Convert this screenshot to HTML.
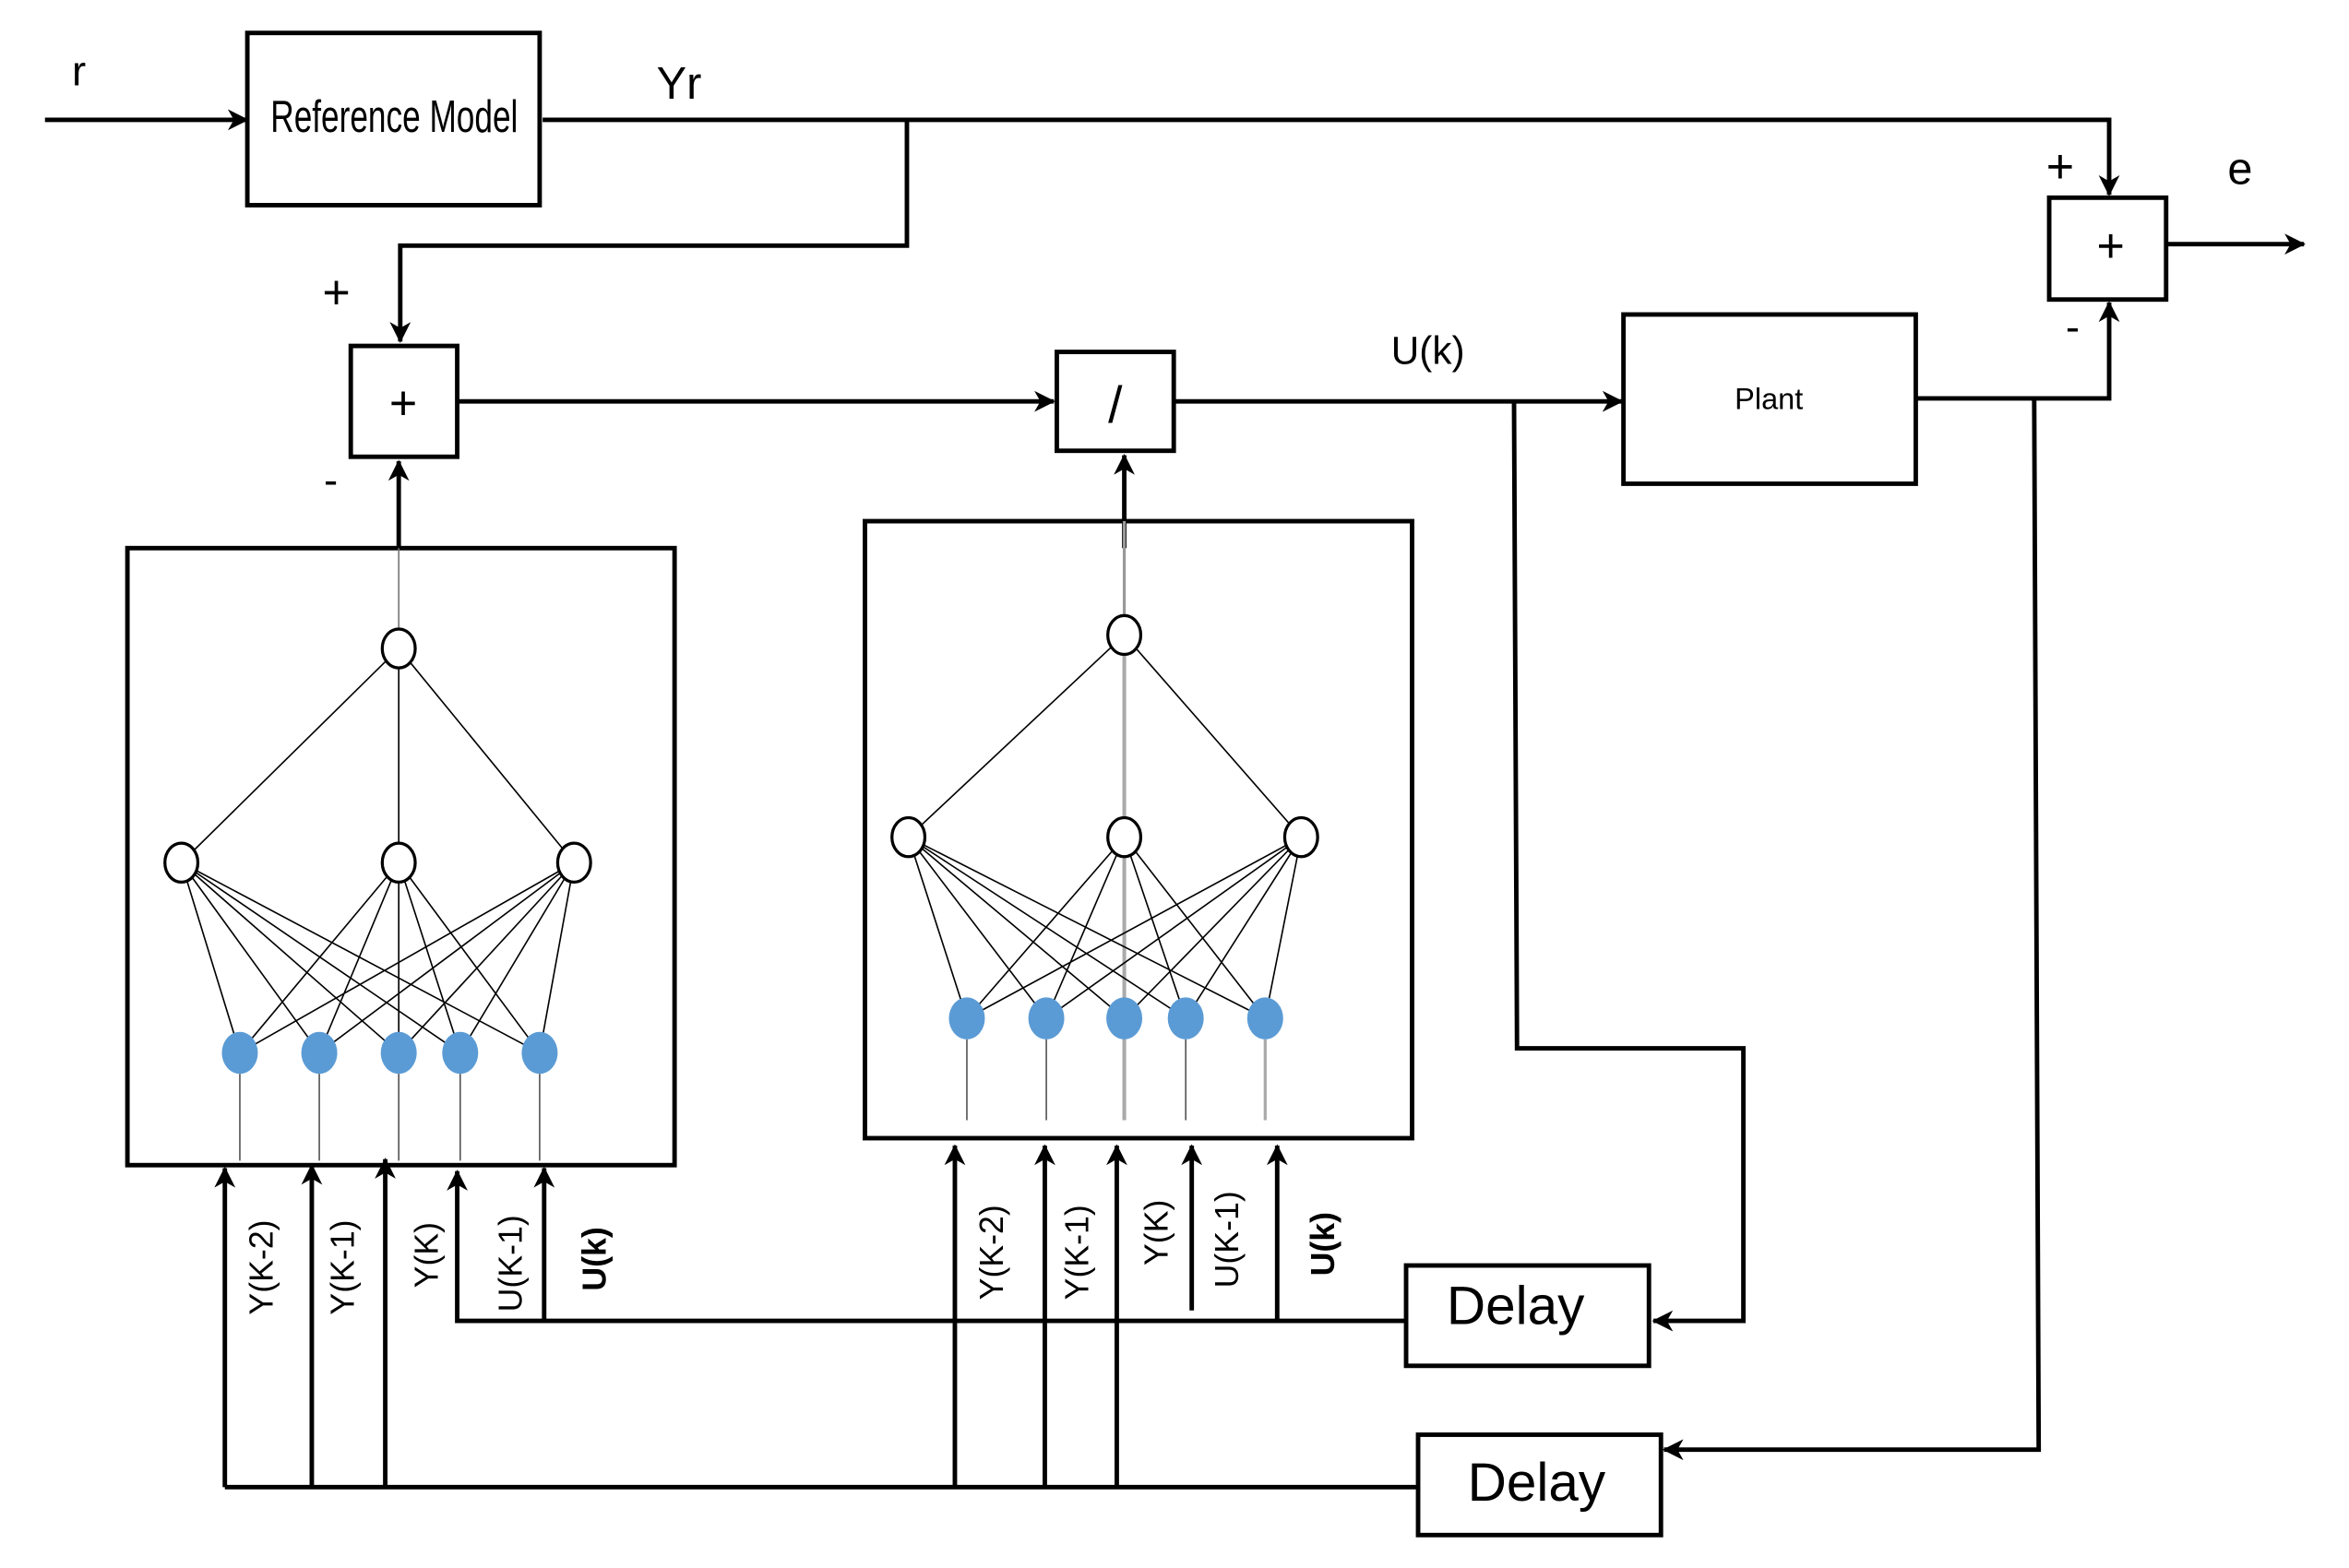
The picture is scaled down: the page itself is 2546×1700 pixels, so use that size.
<!DOCTYPE html>
<html><head><meta charset="utf-8"><style>html,body{margin:0;padding:0;background:#fff;}svg{display:block}</style></head>
<body>
<svg width="2546" height="1700" viewBox="0 0 1567 1047" preserveAspectRatio="none" xmlns="http://www.w3.org/2000/svg" font-family="Liberation Sans, sans-serif">
<defs>
<marker id="a" markerWidth="14" markerHeight="14" refX="13" refY="7" orient="auto" markerUnits="userSpaceOnUse"><path d="M0,0 L14,7 L0,14 L4,7 z" fill="#000"/></marker>
</defs>
<g fill="none" stroke="#000" stroke-width="3">
<line x1="30" y1="80" x2="165" y2="80" marker-end="url(#a)"/>
<rect x="165" y="22" width="195" height="115"/>
<polyline points="362,80 1407,80 1407,130" marker-end="url(#a)"/>
<polyline points="605,80 605,164 267,164 267,228" marker-end="url(#a)"/>
<rect x="234" y="231" width="71" height="74"/>
<line x1="305" y1="268" x2="703" y2="268" marker-end="url(#a)"/>
<rect x="705" y="235" width="78" height="66"/>
<line x1="783" y1="268" x2="1082" y2="268" marker-end="url(#a)"/>
<rect x="1083" y="210" width="195" height="113"/>
<polyline points="1278,266 1407,266 1407,202" marker-end="url(#a)"/>
<rect x="1367" y="132" width="78" height="68"/>
<line x1="1445" y1="163" x2="1537" y2="163" marker-end="url(#a)"/>
<polyline points="1010,268 1012,700 1163,700 1163,882 1103,882" marker-end="url(#a)"/>
<rect x="938" y="845" width="162" height="67"/>
<polyline points="1357,266 1360,968 1110,968" marker-end="url(#a)"/>
<rect x="946" y="958" width="162" height="67"/>
<rect x="85" y="366" width="365" height="412"/>
<rect x="577" y="348" width="365" height="412"/>
<line x1="266" y1="366" x2="266" y2="308" marker-end="url(#a)"/>
<line x1="750" y1="366" x2="750" y2="304" marker-end="url(#a)"/>
<polyline points="938,882 305,882 305,782" marker-end="url(#a)"/>
<line x1="363" y1="882" x2="363" y2="780" marker-end="url(#a)"/>
<line x1="852" y1="882" x2="852" y2="765" marker-end="url(#a)"/>
<line x1="795" y1="875" x2="795" y2="765" marker-end="url(#a)"/>
<line x1="946" y1="993" x2="150" y2="993"/>
<line x1="150" y1="993" x2="150" y2="780" marker-end="url(#a)"/>
<line x1="208" y1="993" x2="208" y2="778" marker-end="url(#a)"/>
<line x1="257" y1="993" x2="257" y2="774" marker-end="url(#a)"/>
<line x1="637" y1="993" x2="637" y2="765" marker-end="url(#a)"/>
<line x1="697" y1="993" x2="697" y2="765" marker-end="url(#a)"/>
<line x1="745" y1="993" x2="745" y2="765" marker-end="url(#a)"/>
</g>
<g stroke="#000" stroke-width="1" fill="none">
<line x1="266" y1="422" x2="266" y2="366" stroke="#777"/>
<path d="M266,433 L121,576 M266,433 L266,576 M266,433 L383,576"/>
<path d="M121,576 L160,703 M121,576 L213,703 M121,576 L266,703 M121,576 L307,703 M121,576 L360,703
M266,576 L160,703 M266,576 L213,703 M266,576 L266,703 M266,576 L307,703 M266,576 L360,703
M383,576 L160,703 M383,576 L213,703 M383,576 L266,703 M383,576 L307,703 M383,576 L360,703"/>
<path d="M160,775V717 M213,775V717 M266,775V717 M307,775V717 M360,775V717" stroke="#555"/>
<line x1="750" y1="412" x2="750" y2="348" stroke="#999" stroke-width="2"/>
<path d="M750,424 L606,559 M750,424 L868,559"/>
<line x1="750" y1="435" x2="750" y2="748" stroke="#aaa" stroke-width="2.5"/>
<path d="M606,559 L645,680 M606,559 L698,680 M606,559 L750,680 M606,559 L791,680 M606,559 L844,680
M750,559 L645,680 M750,559 L698,680 M750,559 L791,680 M750,559 L844,680
M868,559 L645,680 M868,559 L698,680 M868,559 L750,680 M868,559 L791,680 M868,559 L844,680"/>
<path d="M645,748V694 M698,748V694 M791,748V694" stroke="#555"/>
<path d="M844,748V694" stroke="#aaa" stroke-width="2"/>
</g>
<g fill="#fff" stroke="#000" stroke-width="2">
<ellipse cx="266" cy="433" rx="11" ry="13"/>
<ellipse cx="121" cy="576" rx="11" ry="13"/><ellipse cx="266" cy="576" rx="11" ry="13"/><ellipse cx="383" cy="576" rx="11" ry="13"/>
<ellipse cx="750" cy="424" rx="11" ry="13"/>
<ellipse cx="606" cy="559" rx="11" ry="13"/><ellipse cx="750" cy="559" rx="11" ry="13"/><ellipse cx="868" cy="559" rx="11" ry="13"/>
</g>
<g fill="#5b9bd5">
<ellipse cx="160" cy="703" rx="12" ry="14"/><ellipse cx="213" cy="703" rx="12" ry="14"/><ellipse cx="266" cy="703" rx="12" ry="14"/><ellipse cx="307" cy="703" rx="12" ry="14"/><ellipse cx="360" cy="703" rx="12" ry="14"/>
<ellipse cx="645" cy="680" rx="12" ry="14"/><ellipse cx="698" cy="680" rx="12" ry="14"/><ellipse cx="750" cy="680" rx="12" ry="14"/><ellipse cx="791" cy="680" rx="12" ry="14"/><ellipse cx="844" cy="680" rx="12" ry="14"/>
</g>
<g fill="#000">
<text x="48" y="57" font-size="28">r</text>
<text x="263" y="88" font-size="30" text-anchor="middle" textLength="165" lengthAdjust="spacingAndGlyphs">Reference Model</text>
<text x="438" y="66" font-size="30">Yr</text>
<text x="215" y="206" font-size="32">+</text>
<text x="269" y="280" font-size="32" text-anchor="middle">+</text>
<text x="216" y="330" font-size="28">-</text>
<text x="744" y="282" font-size="34" text-anchor="middle">/</text>
<text x="928" y="243" font-size="26">U(k)</text>
<text x="1180" y="273" font-size="20" text-anchor="middle">Plant</text>
<text x="1365" y="122" font-size="32">+</text>
<text x="1408" y="175" font-size="32" text-anchor="middle">+</text>
<text x="1378" y="228" font-size="28">-</text>
<text x="1486" y="123" font-size="30">e</text>
<text x="1011" y="884" font-size="36" text-anchor="middle">Delay</text>
<text x="1025" y="1002" font-size="36" text-anchor="middle">Delay</text>
<g font-size="22">
<text transform="translate(182,878) rotate(-90)">Y(K-2)</text>
<text transform="translate(236,878) rotate(-90)">Y(K-1)</text>
<text transform="translate(292,860) rotate(-90)">Y(K)</text>
<text transform="translate(348,876) rotate(-90)">U(K-1)</text>
<text transform="translate(404,862) rotate(-90)" font-weight="bold">U(k)</text>
<text transform="translate(669,868) rotate(-90)">Y(K-2)</text>
<text transform="translate(726,868) rotate(-90)">Y(K-1)</text>
<text transform="translate(779,845) rotate(-90)">Y(K)</text>
<text transform="translate(826,860) rotate(-90)">U(K-1)</text>
<text transform="translate(890,852) rotate(-90)" font-weight="bold">U(k)</text>
</g>
</g>
</svg>
</body></html>
